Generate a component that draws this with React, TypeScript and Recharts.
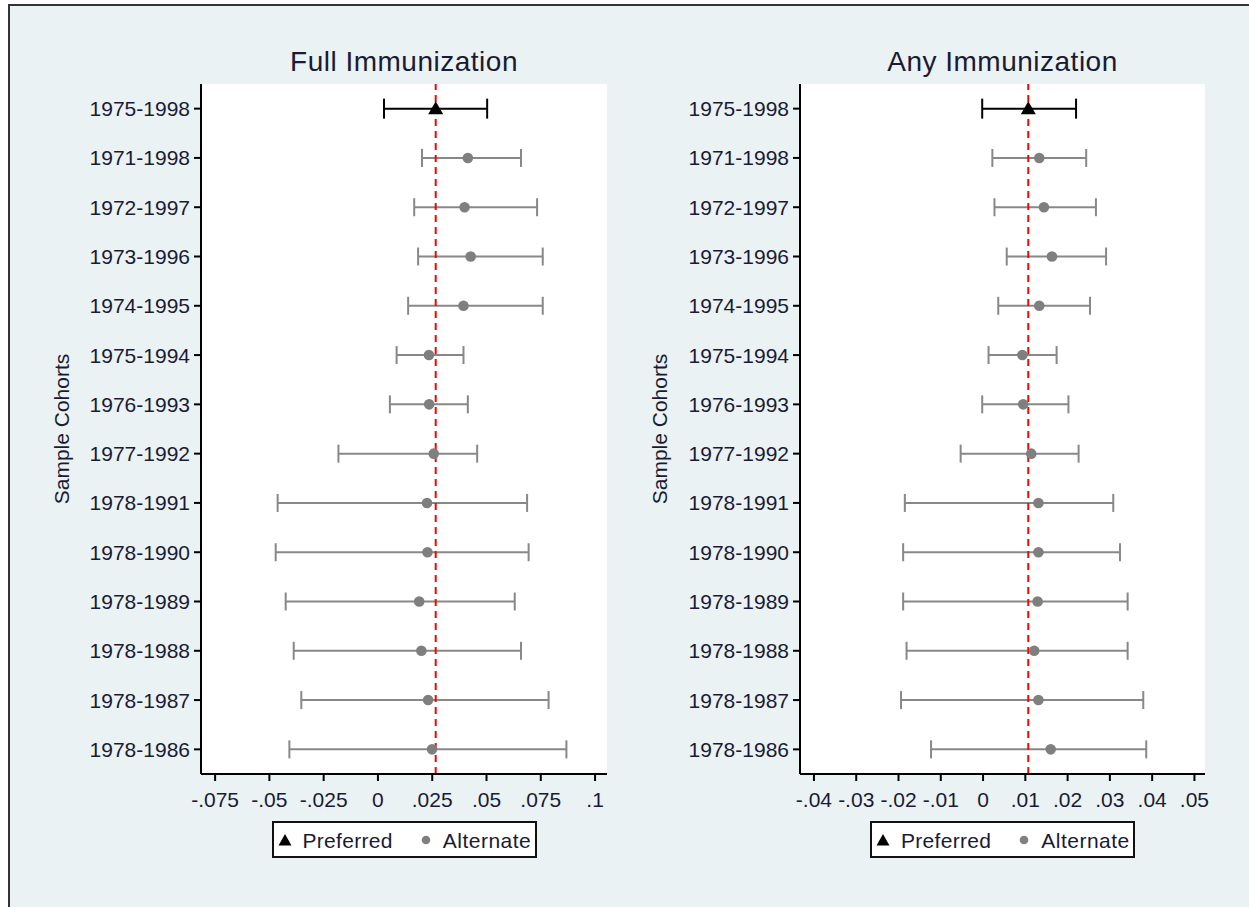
import React from 'react';
import {
  ScatterChart,
  Scatter,
  XAxis,
  YAxis,
  ErrorBar,
  ReferenceLine,
  CartesianGrid,
} from 'recharts';

const cohorts = [
  '1975-1998', '1971-1998', '1972-1997', '1973-1996', '1974-1995', '1975-1994', '1976-1993',
  '1977-1992', '1978-1991', '1978-1990', '1978-1989', '1978-1988', '1978-1987', '1978-1986',
];

// Full immunization: point estimates and 95% CI bounds
const fullEst = [0.0266, 0.0414, 0.0399, 0.0427, 0.0394, 0.0235, 0.0236, 0.0257, 0.0226, 0.0228, 0.019, 0.02, 0.0231, 0.0249];
const fullLo = [0.0028, 0.0203, 0.0167, 0.0185, 0.0139, 0.0086, 0.0055, -0.0182, -0.0462, -0.0471, -0.0425, -0.0388, -0.0353, -0.0408];
const fullHi = [0.0503, 0.0659, 0.0733, 0.0759, 0.0759, 0.0394, 0.0414, 0.0457, 0.0687, 0.0694, 0.063, 0.0659, 0.0786, 0.0868];

// Any immunization
const anyEst = [0.0107, 0.0133, 0.0144, 0.0163, 0.0133, 0.0093, 0.0095, 0.0114, 0.0131, 0.0131, 0.0129, 0.0121, 0.0131, 0.016];
const anyLo = [-0.0002, 0.0022, 0.0027, 0.0056, 0.0036, 0.0013, -0.0002, -0.0053, -0.0185, -0.0189, -0.0189, -0.0181, -0.0194, -0.0123];
const anyHi = [0.022, 0.0244, 0.0267, 0.0291, 0.0253, 0.0174, 0.0202, 0.0226, 0.0308, 0.0324, 0.0342, 0.0342, 0.0379, 0.0386];

const fullTicks = [-0.075, -0.05, -0.025, 0, 0.025, 0.05, 0.075, 0.1];
const anyTicks = [-0.04, -0.03, -0.02, -0.01, 0, 0.01, 0.02, 0.03, 0.04, 0.05];
const rowTicks = cohorts.map((_, i) => i + 1);

const FONT = '"Liberation Sans", Arial, sans-serif';
const TEXT = '#1a1a33';
const GRAY_LINE = '#888888';
const GRAY_DOT = '#7f7f7f';

const fmt = (v: number) => {
  if (v === 0) return '0';
  const s = String(Math.abs(v)).replace(/^0/, '');
  return (v < 0 ? '-' : '') + s;
};

const buildRows = (est: number[], lo: number[], hi: number[]) =>
  est.map((e, i) => ({ row: i + 1, est: e, err: [e - lo[i], hi[i] - e] }));

const Triangle = (p: any) => (
  <path d={`M${p.cx},${p.cy - 7.5} L${p.cx - 7.5},${p.cy + 5.5} L${p.cx + 7.5},${p.cy + 5.5} Z`} fill="#000" />
);
const Dot = (p: any) => <circle cx={p.cx} cy={p.cy} r={5.3} fill={GRAY_DOT} />;

function Legend({ center }: { center: number }) {
  return (
    <div
      style={{
        position: 'absolute', left: center - 132.5, top: 821, width: 265, height: 37,
        boxSizing: 'border-box', border: '2px solid #111', background: '#fff',
        display: 'flex', alignItems: 'center', fontSize: 21, color: TEXT, fontFamily: FONT,
      }}
    >
      <svg width={16} height={14} style={{ marginLeft: 3 }}>
        <path d="M8,1 L1.5,12.5 L14.5,12.5 Z" fill="#000" />
      </svg>
      <span style={{ marginLeft: 10, marginTop: 3, letterSpacing: 0.3 }}>Preferred</span>
      <svg width={10} height={10} style={{ marginLeft: 28 }}>
        <circle cx={5} cy={5} r={4.3} fill={GRAY_DOT} />
      </svg>
      <span style={{ marginLeft: 12, marginTop: 3, letterSpacing: 0.5 }}>Alternate</span>
    </div>
  );
}

interface PanelProps {
  title: string;
  est: number[];
  lo: number[];
  hi: number[];
  domain: [number, number];
  ticks: number[];
  left: number;
  width: number;
  yAxisWidth: number;
  marginRight: number;
  yTitleOffset: number;
}

function Panel({ title, est, lo, hi, domain, ticks, left, width, yAxisWidth, marginRight, yTitleOffset }: PanelProps) {
  const rows = buildRows(est, lo, hi);
  const preferred = rows.slice(0, 1);
  const alternate = rows.slice(1);
  const center = left + yAxisWidth + (width - yAxisWidth - marginRight) / 2;
  return (
    <>
      <div
        style={{
          position: 'absolute', left: center - 200, width: 400, top: 48, textAlign: 'center',
          fontSize: 28, lineHeight: '28px', color: TEXT, fontFamily: FONT, letterSpacing: 0.5,
        }}
      >
        {title}
      </div>
      <div style={{ position: 'absolute', left, top: 0 }}>
        <ScatterChart width={width} height={907} margin={{ top: 84, right: marginRight, bottom: 83, left: 0 }}>
          <CartesianGrid fill="#ffffff" horizontal={false} vertical={false} />
          <XAxis
            type="number"
            dataKey="est"
            domain={domain}
            allowDataOverflow
            ticks={ticks}
            interval={0}
            tickFormatter={fmt}
            height={50}
            tickSize={7}
            tickMargin={11}
            axisLine={{ stroke: '#000', strokeWidth: 2 }}
            tickLine={{ stroke: '#000', strokeWidth: 2 }}
            tick={{ fontSize: 21, fill: TEXT, fontFamily: FONT }}
          />
          <YAxis
            type="number"
            dataKey="row"
            domain={[0.5, 14.5]}
            allowDataOverflow
            reversed
            ticks={rowTicks}
            interval={0}
            tickFormatter={(v: number) => cohorts[v - 1] ?? ''}
            width={yAxisWidth}
            tickSize={7}
            tickMargin={4}
            axisLine={{ stroke: '#000', strokeWidth: 2 }}
            tickLine={{ stroke: '#000', strokeWidth: 2 }}
            tick={{ fontSize: 21, fill: TEXT, fontFamily: FONT }}
            label={{
              value: 'Sample Cohorts',
              angle: -90,
              position: 'insideLeft',
              offset: yTitleOffset,
              style: { textAnchor: 'middle', fontSize: 21, fill: TEXT, fontFamily: FONT },
            }}
          />
          <Scatter data={alternate} shape={Dot} isAnimationActive={false}>
            <ErrorBar dataKey="err" direction="x" width={9} stroke={GRAY_LINE} strokeWidth={2} isAnimationActive={false} />
          </Scatter>
          <Scatter data={preferred} shape={Triangle} isAnimationActive={false}>
            <ErrorBar dataKey="err" direction="x" width={10} stroke="#000" strokeWidth={2} isAnimationActive={false} />
          </Scatter>
          <ReferenceLine x={est[0]} stroke="#ff0000" strokeWidth={2} strokeDasharray="7 5" />
        </ScatterChart>
      </div>
      <Legend center={center} />
    </>
  );
}

export default function App() {
  return (
    <div
      style={{
        position: 'absolute', left: 0, top: 0, width: 1249, height: 907, overflow: 'hidden',
        background: '#ffffff', fontFamily: FONT,
      }}
    >
      <div
        style={{
          position: 'absolute', left: 8, top: 4, width: 1260, height: 920, boxSizing: 'border-box',
          border: '2px solid #333', background: '#eaf2f4',
        }}
      />
      <Panel
        title="Full Immunization"
        est={fullEst}
        lo={fullLo}
        hi={fullHi}
        domain={[-0.0815, 0.1055]}
        ticks={fullTicks}
        left={0}
        width={620}
        yAxisWidth={201}
        marginRight={13}
        yTitleOffset={62}
      />
      <Panel
        title="Any Immunization"
        est={anyEst}
        lo={anyLo}
        hi={anyHi}
        domain={[-0.0433, 0.0525]}
        ticks={anyTicks}
        left={620}
        width={620}
        yAxisWidth={180}
        marginRight={35}
        yTitleOffset={40}
      />
    </div>
  );
}
